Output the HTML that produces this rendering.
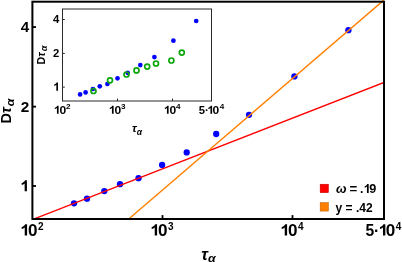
<!DOCTYPE html>
<html><head><meta charset="utf-8">
<style>
html,body{margin:0;padding:0;background:#fff;}
body{width:402px;height:262px;overflow:hidden;}
svg{display:block;will-change:transform;font-family:"Liberation Sans",sans-serif;font-weight:bold;fill:#000;}
.it{font-style:italic;}
</style></head><body>
<svg width="402" height="262" viewBox="0 0 402 262">
<defs><path id="one" d="M.394 0L.256 0L.256 -.517Q.181 -.447 .079 -.413L.079 -.538Q.133 -.555 .196 -.604Q.259 -.653 .282 -.719L.394 -.719Z"/></defs>
<rect width="402" height="262" fill="#fff"/>
<g fill="#0000ff">
<circle cx="74.0" cy="203.3" r="3.15"/>
<circle cx="87.0" cy="198.7" r="3.15"/>
<circle cx="104.3" cy="191.1" r="3.15"/>
<circle cx="120.0" cy="184.2" r="3.15"/>
<circle cx="138.5" cy="178.2" r="3.15"/>
<circle cx="162.1" cy="164.9" r="3.15"/>
<circle cx="186.7" cy="152.4" r="3.15"/>
<circle cx="216.2" cy="134.0" r="3.15"/>
<circle cx="249.0" cy="114.8" r="3.15"/>
<circle cx="294.4" cy="76.4" r="3.15"/>
<circle cx="348.4" cy="30.2" r="3.15"/>
</g>
<clipPath id="cp"><rect x="32.4" y="0" width="351.6" height="219"/></clipPath>
<g clip-path="url(#cp)">
<line x1="32.4" y1="219.55" x2="384" y2="82.4" stroke="#ff0000" stroke-width="1.4"/>
<line x1="128.7" y1="219" x2="384.6" y2="-0.55" stroke="#ff8000" stroke-width="1.4"/>
</g>
<rect x="32.4" y="1.7" width="351.6" height="217.3" fill="none" stroke="#000" stroke-width="2"/>
<g stroke="#000" stroke-width="1.8">
<line x1="33" y1="27.05" x2="36.0" y2="27.05"/>
<line x1="33" y1="106.65" x2="36.0" y2="106.65"/>
<line x1="33" y1="186.00" x2="36.0" y2="186.00"/>
<line x1="162.5" y1="218.5" x2="162.5" y2="215.1"/>
<line x1="292.5" y1="218.5" x2="292.5" y2="215.1"/>
</g>
<text x="29.30" y="32.35" font-size="15.30px" text-anchor="end">4</text>
<text x="29.30" y="111.95" font-size="15.30px" text-anchor="end">2</text>
<use href="#one" transform="translate(20.41,191.30) scale(16.524,15.300)"/>
<use href="#one" transform="translate(20.35,235.55) scale(17.113,15.700)"/>
<text transform="translate(28.05,235.55) scale(1.090,1)" font-size="15.70px">0</text>
<text x="37.90" y="229.70" font-size="10.00px">2</text>
<use href="#one" transform="translate(150.35,235.55) scale(17.113,15.700)"/>
<text transform="translate(158.05,235.55) scale(1.090,1)" font-size="15.70px">0</text>
<text x="167.90" y="229.70" font-size="10.00px">3</text>
<use href="#one" transform="translate(280.35,235.55) scale(17.113,15.700)"/>
<text transform="translate(288.05,235.55) scale(1.090,1)" font-size="15.70px">0</text>
<text x="297.90" y="229.70" font-size="10.00px">4</text>
<text x="365.50" y="235.55" font-size="15.70px">5</text>
<text x="373.95" y="235.55" font-size="15.70px">·</text>
<use href="#one" transform="translate(378.60,235.55) scale(17.113,15.700)"/>
<text transform="translate(385.70,235.55) scale(1.090,1)" font-size="15.70px">0</text>
<text x="395.80" y="229.70" font-size="10.00px">4</text>
<text transform="translate(11.1,123.5) rotate(-90)" font-size="14.5px">D</text>
<text transform="translate(11.1,113.25) rotate(-90)" font-size="15px" class="it">τ</text>
<text transform="translate(14.3,106.3) rotate(-90) scale(1.12,1)" font-size="11px" class="it">α</text>
<text transform="translate(201.2,259.6) scale(1.04,1)" font-size="15.7px" class="it">τ</text>
<text transform="translate(208.0,262.4) scale(1.12,1)" font-size="11px" class="it">α</text>
<rect x="320.15" y="184.2" width="8.3" height="8.5" fill="#ff0000" stroke="#b80000" stroke-width="0.5"/>
<rect x="320.15" y="202.6" width="8.3" height="8.5" fill="#ff8000" stroke="#b85c00" stroke-width="0.5"/>
<text transform="translate(336.00,192.90) scale(1.030,1)" font-size="12.30px" class="it">ω</text>
<text transform="translate(349.40,192.90) scale(1.080,1)" font-size="12.30px">=</text>
<text x="359.90" y="192.90" font-size="12.30px">.</text>
<use href="#one" transform="translate(363.70,192.90) scale(12.669,12.300)"/>
<text transform="translate(369.30,192.90) scale(1.030,1)" font-size="12.30px">9</text>
<text x="335.6" y="211.5" font-size="12px">y = .42</text>
<rect x="62.5" y="9.0" width="149" height="92" fill="#fff" stroke="#2a2a2a" stroke-width="1"/>
<g stroke="#2a2a2a" stroke-width="1">
<line x1="62.5" y1="19.50" x2="64.8" y2="19.50"/>
<line x1="62.5" y1="53.40" x2="64.8" y2="53.40"/>
<line x1="62.5" y1="87.15" x2="64.8" y2="87.15"/>
<line x1="117.5" y1="101" x2="117.5" y2="98.6"/>
<line x1="172.5" y1="101" x2="172.5" y2="98.6"/>
</g>
<g fill="#0000ff">
<circle cx="80.1" cy="94.4" r="2.35"/>
<circle cx="85.6" cy="92.4" r="2.35"/>
<circle cx="92.9" cy="89.0" r="2.35"/>
<circle cx="99.8" cy="86.3" r="2.35"/>
<circle cx="107.4" cy="84.0" r="2.35"/>
<circle cx="117.5" cy="78.3" r="2.35"/>
<circle cx="127.7" cy="72.8" r="2.35"/>
<circle cx="140.3" cy="65.1" r="2.35"/>
<circle cx="154.4" cy="57.1" r="2.35"/>
<circle cx="173.4" cy="40.7" r="2.35"/>
<circle cx="196.2" cy="21.0" r="2.35"/>
</g>
<g fill="none" stroke="#0aa60a" stroke-width="1.7">
<circle cx="93.5" cy="91.0" r="2.5"/>
<circle cx="110.0" cy="80.3" r="2.5"/>
<circle cx="126.5" cy="74.5" r="2.5"/>
<circle cx="136.5" cy="70.4" r="2.5"/>
<circle cx="147.2" cy="66.6" r="2.5"/>
<circle cx="156.0" cy="63.5" r="2.5"/>
<circle cx="171.4" cy="60.5" r="2.5"/>
<circle cx="181.8" cy="52.6" r="2.5"/>
</g>
<text x="59.40" y="23.30" font-size="11.30px" text-anchor="end">4</text>
<text x="59.40" y="57.40" font-size="11.30px" text-anchor="end">2</text>
<use href="#one" transform="translate(53.30,90.70) scale(11.865,11.300)"/>
<use href="#one" transform="translate(53.85,113.75) scale(12.091,11.300)"/>
<text transform="translate(59.40,113.75) scale(1.070,1)" font-size="11.30px">0</text>
<text x="66.05" y="108.85" font-size="8.10px">2</text>
<use href="#one" transform="translate(108.85,113.75) scale(12.091,11.300)"/>
<text transform="translate(114.40,113.75) scale(1.070,1)" font-size="11.30px">0</text>
<text x="121.05" y="108.85" font-size="8.10px">3</text>
<use href="#one" transform="translate(163.85,113.75) scale(12.091,11.300)"/>
<text transform="translate(169.40,113.75) scale(1.070,1)" font-size="11.30px">0</text>
<text x="176.05" y="108.85" font-size="8.10px">4</text>
<text x="198.65" y="113.75" font-size="11.30px">5</text>
<text x="205.00" y="113.75" font-size="11.30px">·</text>
<use href="#one" transform="translate(207.35,113.75) scale(12.091,11.300)"/>
<text transform="translate(212.50,113.75) scale(1.070,1)" font-size="11.30px">0</text>
<text x="219.70" y="108.85" font-size="8.10px">4</text>
<text transform="translate(44.7,64.5) rotate(-90)" font-size="10.7px">D</text>
<text transform="translate(44.7,56.7) rotate(-90)" font-size="10.8px" class="it">τ</text>
<text transform="translate(47.4,51.2) rotate(-90) scale(1.12,1)" font-size="8.2px" class="it">α</text>
<text transform="translate(131.90,132.20) scale(1.120,1)" font-size="10.20px" class="it">τ</text>
<text transform="translate(136.85,134.50) scale(1.050,1)" font-size="8.20px" class="it">α</text>
</svg>
</body></html>
